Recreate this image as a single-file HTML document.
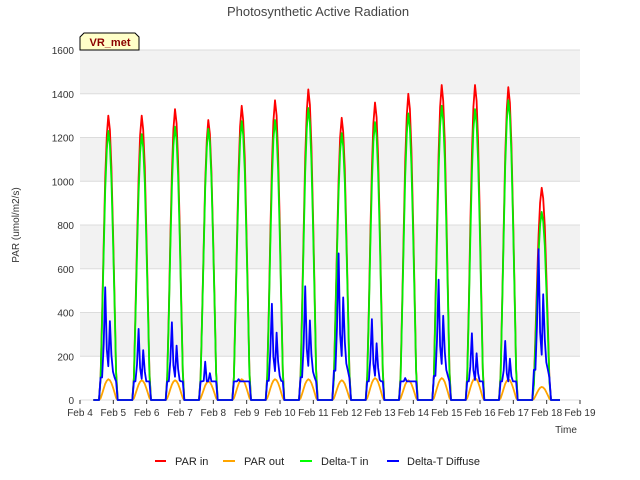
<!DOCTYPE html>
<html><head><meta charset="utf-8"><style>
body{margin:0;background:#fff;}
svg{display:block;font-family:"Liberation Sans","DejaVu Sans",sans-serif;}
</style></head><body>
<svg id="chart" width="640" height="480" viewBox="0 0 640 480" xmlns="http://www.w3.org/2000/svg">
<text x="318" y="16" text-anchor="middle" font-size="13" fill="#444">Photosynthetic Active Radiation</text>
<g id="bands"></g>
<g id="yaxis"></g>
<g id="xaxis"></g>
<g id="series"></g>
<text transform="translate(19,225) rotate(-90)" text-anchor="middle" font-size="10" fill="#333">PAR (umol/m2/s)</text>
<text x="566" y="433" text-anchor="middle" font-size="10" fill="#333">Time</text>
<g>
<path d="M80,50 L80,37 L84,33 L135,33 L139,37 L139,50 Z" fill="#ffffc8" stroke="#000" stroke-width="1"/>
<text x="110" y="46" text-anchor="middle" font-size="11" font-weight="bold" fill="#8b0000">VR_met</text>
</g>
<g>
<line x1="155" y1="461" x2="166" y2="461" stroke="#f00" stroke-width="2"/><text x="175" y="465" font-size="11" fill="#222">PAR in</text>
<line x1="223" y1="461" x2="235" y2="461" stroke="#ffa500" stroke-width="2"/><text x="244" y="465" font-size="11" fill="#222">PAR out</text>
<line x1="300" y1="461" x2="312" y2="461" stroke="#0f0" stroke-width="2"/><text x="321" y="465" font-size="11" fill="#222">Delta-T in</text>
<line x1="387" y1="461" x2="399" y2="461" stroke="#00f" stroke-width="2"/><text x="407" y="465" font-size="11" fill="#222">Delta-T Diffuse</text>
</g>
</svg>
<script>
const dayLabels=["Feb 4","Feb 5","Feb 6","Feb 7","Feb 8","Feb 9","Feb 10","Feb 11","Feb 12","Feb 13","Feb 14","Feb 15","Feb 16","Feb 17","Feb 18","Feb 19"];
const yTicks=[0,200,400,600,800,1000,1200,1400,1600];
const parInPeaks=[1300,1300,1330,1280,1345,1370,1420,1290,1360,1400,1440,1440,1430,970];
const deltaTInPeaks=[1230,1215,1250,1240,1275,1280,1335,1220,1270,1310,1345,1330,1370,860];
const parOutPeaks=[95,90,90,85,95,95,95,90,100,90,100,100,95,60];
const diffusePeaks=[515,325,355,175,95,440,520,670,370,100,550,305,270,690];
const profile=[0,0.08,0.3,0.55,0.78,0.93,1,0.95,0.82,0.6,0.35,0.1,0];
const diffProfile=[0,0.2,0.2,0.5,1,0.45,0.3,0.7,0.4,0.25,0.2,0.15,0];

const NS="http://www.w3.org/2000/svg";
const L=80,R=580,T=50,B=400;
const xs=d=>L+(d)*(R-L)/15;
const ys=v=>B-v*(B-T)/1600;
function mk(tag,attrs,parent){const e=document.createElementNS(NS,tag);for(const k in attrs)e.setAttribute(k,attrs[k]);document.getElementById(parent).appendChild(e);return e;}

for(let i=0;i<yTicks.length-1;i++){
  const r=mk('rect',{x:L,y:ys(yTicks[i+1]),width:R-L,height:ys(yTicks[i])-ys(yTicks[i+1]),fill:i%2?'#f2f2f2':'#ffffff'},'bands');
  
  
}
yTicks.forEach(v=>{
  const g=mk('line',{x1:L,x2:R,y1:ys(v),y2:ys(v),stroke:'#dcdcdc','stroke-width':1},'yaxis');
  
  
  const t=mk('text',{x:L-6,y:ys(v)+4,'text-anchor':'end','font-size':10,fill:'#333'},'yaxis');
  t.textContent=v;
  
  
});
dayLabels.forEach((s,i)=>{
  mk('line',{x1:xs(i),x2:xs(i),y1:B,y2:B+4,stroke:'#333'},'xaxis');
  const t=mk('text',{x:xs(i),y:B+16,'text-anchor':'middle','font-size':10,fill:'#333'},'xaxis');
  t.textContent=s;
  
  
});

function series(peaks,prof,color,name,base){
  let d='M'+xs(0.4)+','+ys(0);
  peaks.forEach((p,i)=>{
    const c=i+0.85,hw=0.28;
    prof.forEach((f,k)=>{
      const x=c-hw+2*hw*k/(prof.length-1);
      let v=p*f;
      if(base && k>0 && k<prof.length-1) v=Math.max(v,base);
      d+=' L'+xs(x).toFixed(1)+','+ys(v).toFixed(1);
    });
  });
  d+=' L'+xs(14.4)+','+ys(0);
  const e=mk('path',{d:d,fill:'none',stroke:color,'stroke-width':1.8,'stroke-linejoin':'round'},'series');
  
  
}
series(parInPeaks,profile,'#ff0000','par-in-line');
series(parOutPeaks,profile,'#ffa500','par-out-line');
series(deltaTInPeaks,profile,'#00ee00','delta-t-in-line');
series(diffusePeaks,diffProfile,'#0000ff','delta-t-diffuse-line',85);
</script>
</body></html>
